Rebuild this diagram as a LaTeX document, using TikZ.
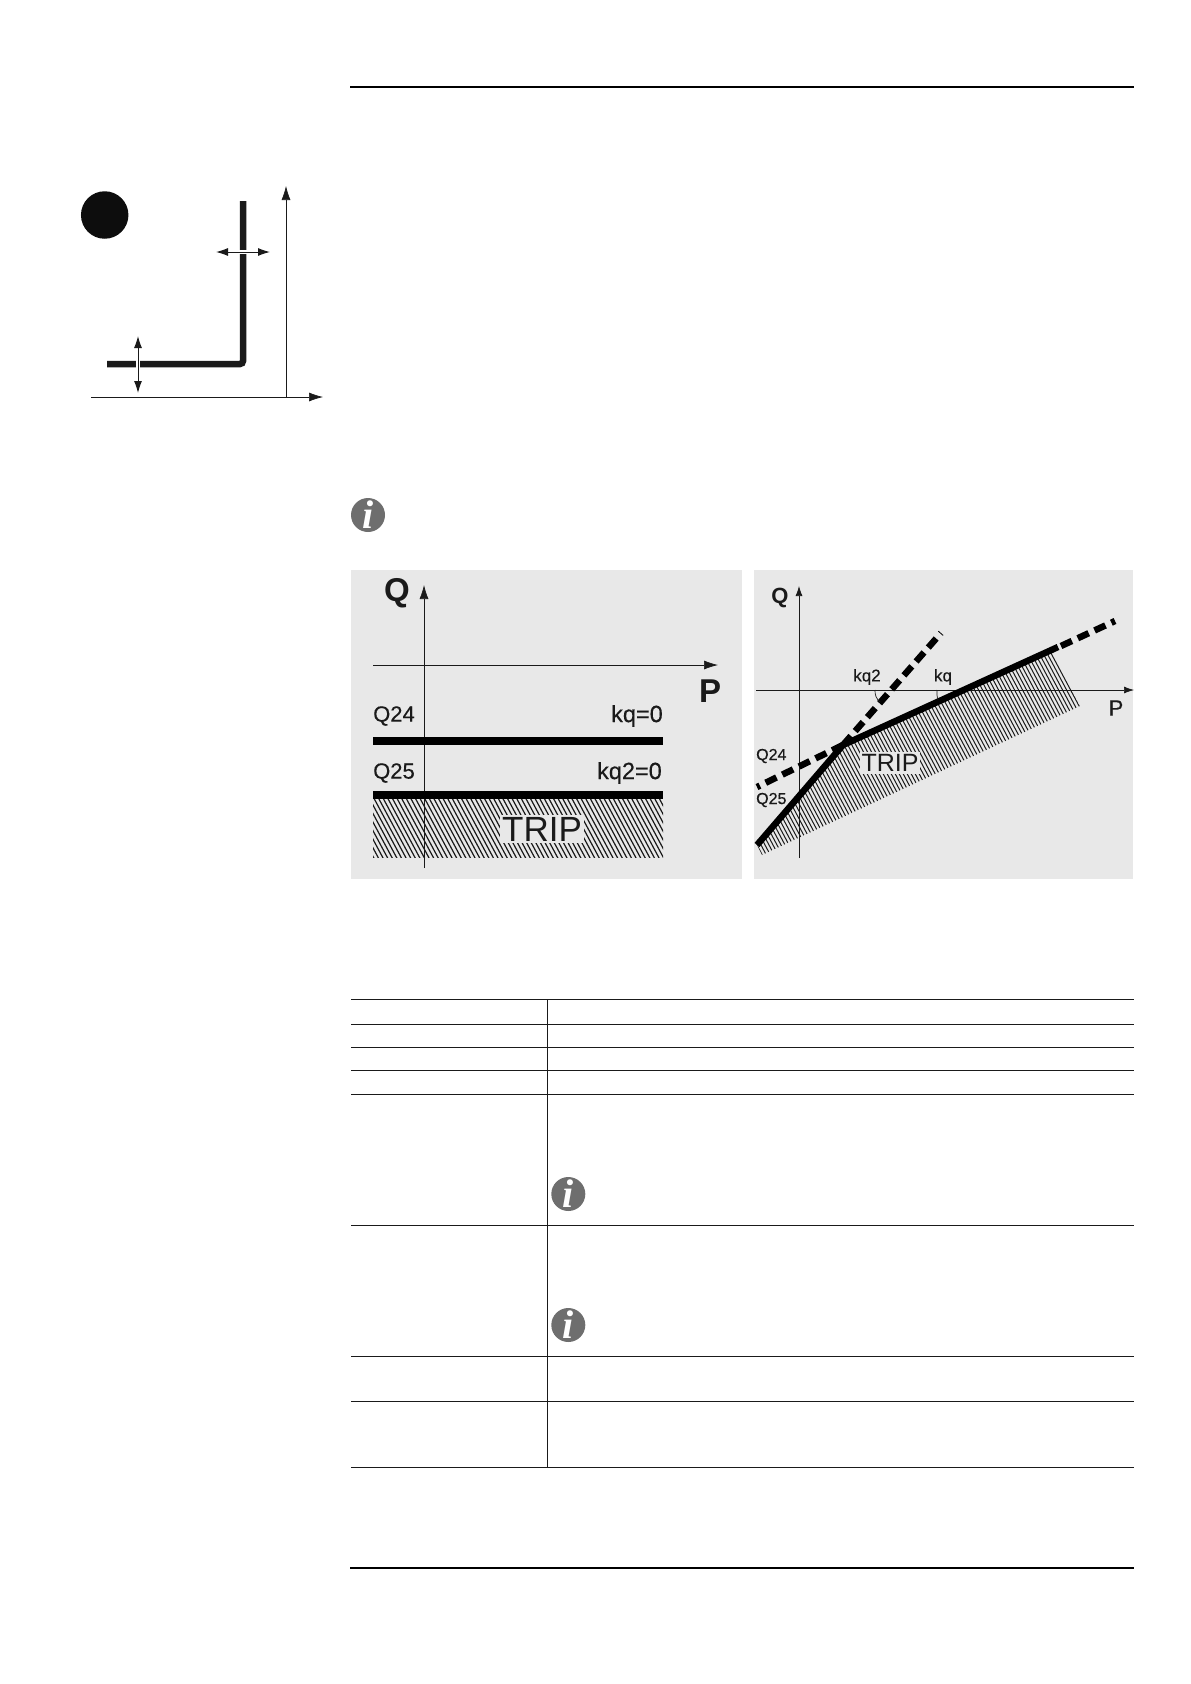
\documentclass[tikz,border=0pt]{standalone}
\usepackage{fontspec}
\setmainfont{Liberation Sans}
\newfontfamily\iconfont{Liberation Serif}
\newfontfamily\labelfont[FakeBold=0.35]{Liberation Sans}
\usetikzlibrary{arrows.meta}
\definecolor{panelgray}{HTML}{E8E8E8}
\definecolor{icongray}{HTML}{6E6E6E}
\definecolor{inkblack}{HTML}{1A1A1A}
\begin{document}
\begin{tikzpicture}[x=1pt,y=-1pt,
panel/.style={%
fill=panelgray,
draw=none
},
axis/.style={%
-{Latex[length=14pt,width=9pt]},
draw=inkblack,
line width=0.7pt
},
axissmall/.style={%
-{Latex[length=10pt,width=7pt]},
draw=inkblack,
line width=0.7pt
},
limit/.style={%
draw=black,
line width=8pt
},
slope/.style={%
draw=black,
line width=6.5pt
},
slopedash/.style={%
draw=black,
line width=6.5pt,
dash pattern=on 12pt off 6.5pt
},
hatch/.style={%
draw=inkblack,
line width=1.2pt
},
rulerow/.style={%
draw=inkblack,
line width=0.8pt
},
lbl/.style={%
inner sep=0pt,
text=inkblack,
font=\labelfont\fontsize{22}{22}\selectfont
},
lblwide/.style={%
inner sep=0pt,
text=inkblack,
font=\labelfont\fontsize{23.5}{23.5}\selectfont
},
lblbig/.style={%
inner sep=0pt,
text=inkblack,
font=\fontsize{33}{33}\selectfont\bfseries
},
lblsmall/.style={%
inner sep=0pt,
text=inkblack,
font=\labelfont\fontsize{16}{16}\selectfont
},
trip/.style={%
fill=panelgray,
inner sep=2pt,
text=inkblack
},
info/.style={%
circle,
fill=icongray,
text=white,
minimum size=34pt,
inner sep=0pt,
font=\iconfont\fontsize{40}{40}\selectfont\bfseries\itshape
},
shift arrow/.style={%
{Latex[length=12pt,width=8pt]}-{Latex[length=12pt,width=8pt]},
draw=inkblack,
line width=1pt
},
]
\useasboundingbox (0,0) rectangle (1191,1684);
%% Page rules
\draw[line width=2pt] (350,86.7)--(1134,86.7);
\draw[line width=2pt] (350,1567.7)--(1134,1567.7);
%% Threshold sketch
\node[circle,fill=black!95,minimum size=47.5pt,inner sep=0pt] (dot) at (104.7,215) {};
\draw[draw=inkblack,line width=6.5pt,rounded corners=3pt] (243,201)--(243,364)--(107,364);
\draw[axis] (91,397)--(323,397);
\draw[axis] (286,397)--(286,186);
\draw[white,line width=4pt] (236,252)--(250,252);
\draw[white,line width=4pt] (138,358)--(138,370);
\draw[shift arrow] (216,252)--(270,252);
\draw[shift arrow] (138,336)--(138,393);
%% Note icons
\node[info] (note1) at (368,515) {i};
\node[info] (note2) at (568.3,1194) {i};
\node[info] (note3) at (568.3,1325) {i};
%% Left panel
\fill[panel] (351,570) rectangle (742,879);
\begin{scope}
\clip (373,799) rectangle (663,857);
\foreach \x in {340,344.6,...,670}{%
\draw[hatch] (\x,795)--(\x+36,862);
}
\end{scope}
\draw[axis] (424,868)--(424,585);
\draw[axis] (373,665)--(718,665);
\draw[limit] (373,741)--(663,741);
\draw[limit] (373,795)--(663,795);
\node[lblbig] (lq) at (397,593) {Q};
\node[lblbig] (lp) at (710,691) {P};
\node[lbl,anchor=west] (lq24) at (373,716) {Q24};
\node[lbl,anchor=west] (lq25) at (373,773) {Q25};
\node[lblwide,anchor=east] (lkq) at (663,716) {kq=0};
\node[lblwide,anchor=east] (lkq2) at (662,773) {kq2=0};
\node[trip,font=\fontsize{35}{35}\selectfont] (ltrip) at (542,829) {TRIP};
%% Right panel
\fill[panel] (754,570) rectangle (1133,879);
\begin{scope}
\clip (757,845)--(843,745)--(1052,652)--(1080,706)--(762,855)--cycle;
\foreach \x in {640,644,...,1090}{%
\draw[hatch,line width=1pt] (\x,640)--(\x+117,860);
}
\end{scope}
\draw[axissmall] (799,858)--(799,586);
\draw[axissmall] (756,690)--(1134,690);
\draw[slopedash] (843,745)--(757,787);
\draw[slopedash] (843,745)--(941,633);
\draw[slopedash] (1061,646)--(1115,621);
\draw[slope,line join=round] (757,845)--(843,745)--(1058,647);
\draw[draw=inkblack,line width=0.7pt] (875,690) to[bend right=25] (880,702);
\draw[draw=inkblack,line width=0.7pt] (937,690) to[bend right=10] (938,700);
\node[lbl,font=\fontsize{22}{22}\selectfont\bfseries] (rq) at (780,598) {Q};
\node[lbl] (rp) at (1116,708) {P};
\node[lblsmall,font=\labelfont\fontsize{17}{17}\selectfont] (rkq2) at (867,677) {kq2};
\node[lblsmall,font=\labelfont\fontsize{17}{17}\selectfont] (rkq) at (943,677) {kq};
\node[lblsmall,anchor=west] (rq24) at (756,756) {Q24};
\node[lblsmall,anchor=west] (rq25) at (756,800) {Q25};
\node[trip,font=\fontsize{25}{25}\selectfont] (rtrip) at (890,763) {TRIP};
%% Table
\foreach \y in {999.3,1024.3,1047.3,1070.3,1094.3,1225,1356.3,1401,1467}{%
\draw[rulerow] (351,\y)--(1134,\y);
}
\draw[rulerow] (547.3,999.3)--(547.3,1467);
\end{tikzpicture}
\end{document}
